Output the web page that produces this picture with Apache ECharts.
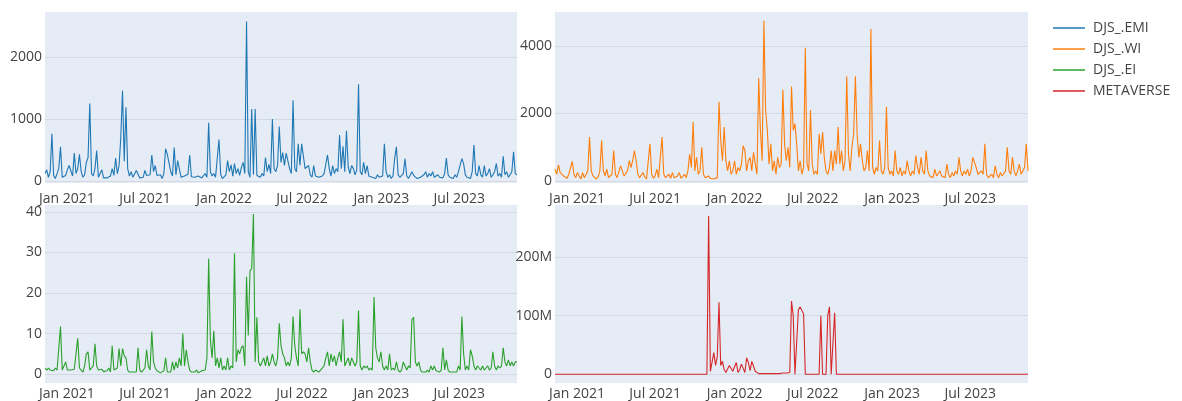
<!DOCTYPE html>
<html>
<head>
<meta charset="utf-8">
<script src="https://cdn.jsdelivr.net/npm/echarts@6/dist/echarts.min.js"></script>
<style>
  html, body { margin: 0; padding: 0; background: #fff; }
  #main { width: 1182px; height: 401px; }
</style>
</head>
<body>
<div id="main"></div>
<script>
// sampled every 4 days from 2020-11-11
var startDate = '2020-11-11';
var stepDays = 4;

var seriesNames = ['DJS_.EMI', 'DJS_.WI', 'DJS_.EI', 'METAVERSE'];
var colors = ['#1f77b4', '#ff7f0e', '#2ca02c', '#d62728'];

var emi = [
  120,180,60,150,760,90,40,120,200,550,60,30,90,180,250,220,80,450,120,200,430,150,60,100,300,
  380,1250,120,80,200,490,60,30,180,50,40,50,30,80,200,90,370,120,250,700,1460,320,1190,200,80,
  150,60,40,170,140,50,30,60,170,90,80,100,420,150,250,90,60,100,40,120,520,430,400,150,80,
  540,100,330,300,60,40,80,50,110,420,70,40,60,30,80,100,50,40,120,60,940,150,80,120,60,
  90,670,100,40,60,100,330,150,260,80,280,120,200,90,220,300,120,2570,150,60,1160,100,1160,90,100,
  60,120,80,380,150,270,120,1000,200,150,250,880,300,460,250,450,430,200,120,1300,200,150,600,250,600,
  400,200,180,250,100,60,250,80,100,60,40,80,120,100,420,200,80,250,120,200,150,740,200,560,150,
  810,230,120,250,200,100,180,1560,150,100,300,120,250,80,100,60,80,40,100,60,50,80,600,150,60,
  100,40,80,370,550,100,60,80,120,360,80,40,60,150,90,100,40,30,60,40,100,150,60,120,80,
  150,60,40,100,60,80,50,120,370,100,60,80,40,100,60,150,120,360,280,100,60,80,40,150,580,
  120,80,250,100,60,250,80,120,200,60,100,150,280,80,120,60,400,100,150,60,100,150,470,120,100
];

var wi = [
  350,200,480,250,300,150,100,80,200,150,580,200,100,250,150,60,250,100,80,300,1300,300,150,100,60,
  120,300,1200,300,150,350,100,80,200,900,200,100,60,450,300,150,100,300,600,400,600,900,600,200,100,
  80,250,120,60,100,1100,200,80,150,350,100,60,1300,200,100,60,200,80,250,100,60,150,250,80,60,
  200,100,300,800,400,1750,300,700,200,300,1000,200,100,60,150,80,100,60,40,100,2350,1200,600,1600,600,
  300,600,200,300,600,200,400,300,500,1050,900,300,600,700,300,850,500,200,3050,1500,600,4750,2100,1500,500,
  1100,300,600,200,700,400,500,2700,1100,600,1000,400,2800,1500,1700,1100,300,600,200,400,3950,500,300,2100,500,
  200,300,200,1400,800,1450,700,300,200,400,900,300,900,500,1600,500,900,300,600,3100,800,300,1000,1400,3100,
  1400,700,1100,600,300,400,900,300,4500,400,200,400,300,1200,300,200,400,2200,400,200,300,150,900,300,200,
  400,150,300,200,600,300,150,300,200,750,400,200,700,300,200,900,300,150,200,100,350,150,100,300,150,
  200,100,500,200,100,250,150,300,200,700,300,150,300,200,350,150,300,700,700,400,200,150,300,200,1100,
  200,100,150,200,100,450,200,100,250,150,200,300,1000,300,200,700,300,150,300,500,200,300,400,1100,300
];

var ei = [
  1.5,1,1.5,1,1.2,0.8,1.5,1,1.2,11.7,1,0.8,3,1,0.8,1,0.6,1.2,0.8,8.8,1.5,1,0.5,2,5,
  5.5,1,0.8,2,7.5,2,1,0.8,1.2,0.6,1,0.8,1.5,0.5,7,1,0.8,1.5,6.3,2,6.3,4.5,4,1,0.5,
  0.3,0.5,0.8,0.5,6.5,1,0.5,0.8,1.5,6,2,1,10.5,3,1.5,0.8,0.5,0.3,0.5,0.8,4,0.5,0.3,0.5,3,
  1,3,1.5,4,2,10,2,6,3,1,0.5,0.8,0.5,1,0.3,0.5,0.8,0.5,1,4,28.5,8.5,4,10.7,2,
  4,1.5,4,1,2,1,4,1,2,1.5,29.8,3,6,5,6.5,7,2,24,9.5,25.5,26,39.5,3,14,3,
  2,3,4,2,4.5,2,3,5,3,2,4,12.5,7,5,4,2,3,2,4,14.2,7,4,2,16,5,
  5.5,5,3,6.5,3,1,0.5,1,0.8,0.5,1,0.8,2,4,5.5,2,5,3,4.5,2,4,5.5,3,13.5,2,
  3,4,2,4,3,2,3,15.7,2,1,2,1.5,2,1,1.5,1,19,6.5,4,3,5.5,2,1,2,1,
  5,1,1.5,1,3,1,0.5,1,3,2,1,2,1.5,13.5,14,3,2,3,1,0.5,0.8,0.5,1,0.5,2,
  1,2,0.8,1,0.5,1,6.5,1,3.5,1,0.5,0.3,0.5,0.8,0.5,2,1,14.2,5,1,2,1,6,4.5,2,
  1,2,1.5,1,2,1,1.5,2,1,1.5,5.5,2,1,2,1.5,2,6.5,3,2,3.5,2,3,2,3,3
];

// METAVERSE, in millions
var meta = [
  0,0,0,0,0,0,0,0,0,0,0,0,0,0,0,0,0,0,0,0,0,0,0,0,0,
  0,0,0,0,0,0,0,0,0,0,0,0,0,0,0,0,0,0,0,0,0,0,0,0,0,
  0,0,0,0,0,0,0,0,0,0,0,0,0,0,0,0,0,0,0,0,0,0,0,0,0,
  0,0,0,0,0,0,0,0,0,0,0,0,0,0,270,5,2,37,15,30,123,15,22,8,3,
  6,15,16,5,3,20,3,8,17,10,3,28,20,6,22,24,5,2,1,2,1,0.5,1,0.5,1,
  2,1,0.5,1,2,1,1,2,1,2,2,3,125,100,0,0,110,115,115,103,0,0,0,0,0,
  0,0,0,0,100,0,0,0,100,115,0,0,105,0,0,0,0,0,0,0,0,0,0,0,0,
  0,0,0,0,0,0,0,0,0,0,0,0,0,0,0,0,0,0,0,0,0,0,0,0,0,
  0,0,0,0,0,0,0,0,0,0,0,0,0,0,0,0,0,0,0,0,0,0,0,0,0,
  0,0,0,0,0,0,0,0,0,0,0,0,0,0,0,0,0,0,0,0,0,0,0,0,0,
  0,0,0,0,0,0,0,0,0,0,0,0,0,0,0,0,0,0,0,0,0,0,0,0,0
];

var xTickDates = ['2021-01-01', '2021-07-01', '2022-01-01', '2022-07-01', '2023-01-01', '2023-07-01'];
var xTickLabels = ['Jan 2021', 'Jul 2021', 'Jan 2022', 'Jul 2022', 'Jan 2023', 'Jul 2023'];

var yTicks = [
  [0, 1000, 2000],
  [0, 2000, 4000],
  [0, 10, 20, 30, 40],
  [0, 100, 200]
];
var yRanges = [[-32, 2725], [-59, 5007], [-2.2, 41.7], [-15, 289]];

function toTime(s) {
  return Date.UTC(+s.slice(0, 4), +s.slice(5, 7) - 1, +s.slice(8, 10));
}

var t0 = toTime(startDate);
var dates = emi.map(function (v, i) { return t0 + i * stepDays * 86400000; });
var xTickValues = xTickDates.map(toTime);

var allData = [emi, wi, ei, meta];

var myChart = echarts.init(document.getElementById('main'));

var font = { fontFamily: 'Open Sans', fontSize: 14, color: '#444' };

var grids = [
  { left: 45, top: 12, width: 472, height: 171 },
  { left: 555, top: 12, width: 473, height: 171 },
  { left: 45, top: 205, width: 472, height: 178 },
  { left: 555, top: 205, width: 473, height: 178 }
].map(function (g) {
  return Object.assign({ show: true, backgroundColor: '#e5ecf6', borderWidth: 0 }, g);
});

var xAxes = grids.map(function (g, k) {
  return {
    type: 'value',
    gridIndex: k,
    min: dates[0],
    max: dates[dates.length - 1],
    axisLine: { show: false },
    axisTick: { show: false, customValues: xTickValues },
    splitLine: { show: false },
    axisLabel: Object.assign({
      customValues: xTickValues,
      margin: k < 2 ? 9 : 4,
      formatter: function (v) {
        return xTickLabels[xTickValues.indexOf(+v)];
      }
    }, font)
  };
});

var yAxes = grids.map(function (g, k) {
  return {
    type: 'value',
    gridIndex: k,
    min: yRanges[k][0],
    max: yRanges[k][1],
    axisLine: { show: false },
    axisTick: { show: false, customValues: yTicks[k] },
    splitLine: { show: true, lineStyle: { color: '#d3d9e2', width: 1 } },
    axisLabel: Object.assign({
      customValues: yTicks[k],
      margin: 3,
      formatter: function (v) { return k === 3 && v !== 0 ? v + 'M' : String(v); }
    }, font)
  };
});

var series = allData.map(function (arr, k) {
  return {
    name: seriesNames[k],
    type: 'line',
    xAxisIndex: k,
    yAxisIndex: k,
    symbol: 'none',
    color: colors[k],
    lineStyle: { width: 1.1, color: colors[k] },
    data: arr.map(function (v, i) { return [dates[i], v]; })
  };
});

var option = {
  animation: false,
  backgroundColor: '#fff',
  legend: {
    orient: 'vertical',
    left: 1048,
    top: 16,
    icon: 'rect',
    itemWidth: 32,
    itemHeight: 1.5,
    itemGap: 7,
    data: seriesNames,
    textStyle: { fontFamily: 'Open Sans', fontSize: 14, color: '#444', padding: [0, 0, 0, 3] }
  },
  grid: grids,
  xAxis: xAxes,
  yAxis: yAxes,
  series: series
};

myChart.setOption(option);
</script>
</body>
</html>
